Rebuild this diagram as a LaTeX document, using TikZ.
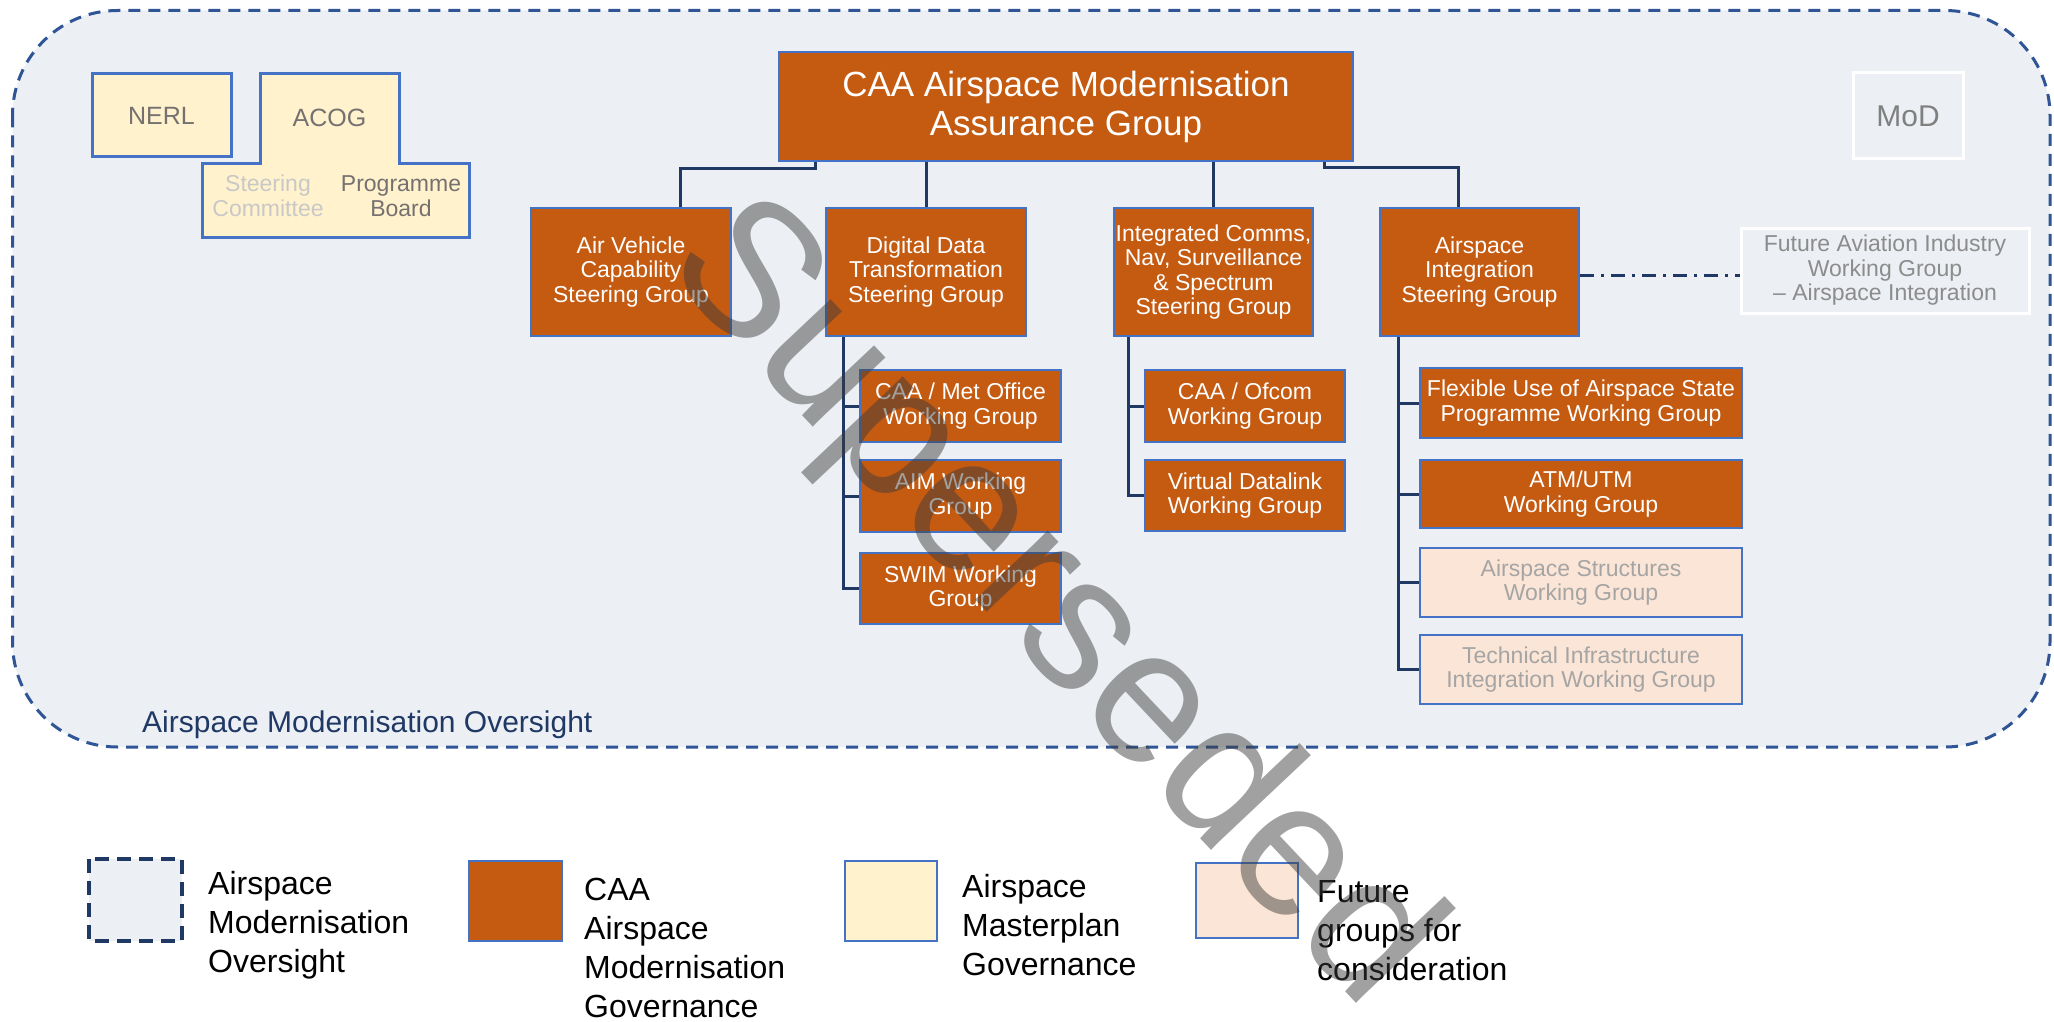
\documentclass[tikz,border=0pt]{standalone}
\usepackage{fontspec}
\setmainfont{Liberation Sans}
\newcommand\myfs[2]{\fontsize{#1}{#2}\selectfont}
\definecolor{orng}{HTML}{C55A11}
\definecolor{bord}{HTML}{4472C4}
\definecolor{navy}{HTML}{1F3864}
\definecolor{ovbg}{HTML}{ECEFF4}
\definecolor{ovline}{HTML}{2F5597}
\definecolor{cream}{HTML}{FFF2CC}
\definecolor{peach}{HTML}{FBE5D6}
\definecolor{dgray}{HTML}{767171}
\definecolor{lgray}{HTML}{C8C8C8}
\definecolor{mgray}{HTML}{808080}
\definecolor{fgray}{HTML}{A5A5A5}
\definecolor{agray}{HTML}{8C8C8C}
\definecolor{wmgray}{HTML}{3C3C3C}
\begin{document}
\begin{tikzpicture}[x=1pt,y=-1pt,
  conn/.style={draw=navy, line width=3pt},
  box/.style={draw=bord, line width=2pt, fill=orng, text=white, align=center, inner sep=0pt, font=\myfs{23}{24.5}},
  lvl/.style={box, minimum width=200pt, minimum height=128pt},
  wg/.style={box, minimum width=201pt, minimum height=72pt},
  rwg/.style={box, minimum width=322pt, minimum height=69pt},
  futbox/.style={fill=peach, text=fgray},
  ampbox/.style={draw=bord, line width=3pt, fill=cream},
  wbox/.style={draw=white, line width=3pt, align=center, inner sep=0pt},
  legbox/.style={draw=bord, line width=2pt},
  legtxt/.style={anchor=north west, align=left, inner sep=0pt, font=\myfs{32}{39}, text=black},
]
\useasboundingbox (0,0) rectangle (2054,1022);
\fill[white] (0,0) rectangle (2054,1022);

% oversight area
\draw[draw=ovline, line width=3pt, dash pattern=on 12pt off 8pt, fill=ovbg, rounded corners=105pt] (12.5,10.5) rectangle (2050,747);
\node[anchor=base west, inner sep=0pt, text=navy, font=\myfs{30}{36}] (ovlabel) at (142,732) {Airspace Modernisation Oversight};

% Masterplan governance
\node[ampbox, minimum width=139pt, minimum height=83pt, inner sep=0pt, text=dgray, font=\myfs{25}{30}] (nerl) at (161.5,115.5) {NERL};
\draw[ampbox] (260,74) -- (399,74) -- (399,164) -- (469,164) -- (469,237) -- (202,237) -- (202,164) -- (260,164) -- cycle;
\node[inner sep=0pt, text=dgray, font=\myfs{25}{30}] (acog) at (329.5,118) {ACOG};
\node[inner sep=0pt, align=center, text=lgray, font=\myfs{23}{25}] (stc) at (268,196) {Steering\\Committee};
\node[inner sep=0pt, align=center, text=dgray, font=\myfs{23}{25}] (pb) at (401,196) {Programme\\Board};

% MoD
\node[wbox, minimum width=110pt, minimum height=86pt, text=mgray, font=\myfs{30}{36}] (mod) at (1908,116) {MoD};

% title
\node[box, minimum width=574pt, minimum height=109pt, font=\myfs{35}{39}] (title) at (1066,106.5) {CAA Airspace Modernisation\\Assurance Group};

% level 2
\node[lvl] (av) at (631,272) {Air Vehicle\\Capability\\Steering Group};
\node[lvl] (dd) at (926,272) {Digital Data\\Transformation\\Steering Group};
\node[lvl, minimum width=199pt] (icns) at (1213.5,272) {Integrated Comms,\\Nav, Surveillance\\\& Spectrum\\Steering Group};
\node[lvl, minimum width=199pt] (ai) at (1479.5,272) {Airspace\\Integration\\Steering Group};

\node[wbox, minimum width=288pt, minimum height=85pt, text=agray, font=\myfs{23}{24.5}] (fai) at (1885,270.5) {Future Aviation Industry\\Working Group\\-- Airspace Integration};

% working groups
\node[wg] (met) at (960.5,406) {CAA / Met Office\\Working Group};
\node[wg] (aim) at (960.5,496) {AIM Working\\Group};
\node[wg, minimum height=71pt] (swim) at (960.5,588.5) {SWIM Working\\Group};
\node[wg, minimum width=200pt] (ofcom) at (1245,406) {CAA / Ofcom\\Working Group};
\node[wg, minimum width=200pt, minimum height=71pt] (vdl) at (1245,495.5) {Virtual Datalink\\Working Group};
\node[rwg, minimum height=70pt] (fua) at (1581,403) {Flexible Use of Airspace State\\Programme Working Group};
\node[rwg, minimum height=68pt] (atm) at (1581,494) {ATM/UTM\\Working Group};
\node[rwg, futbox] (as) at (1581,582.5) {Airspace Structures\\Working Group};
\node[rwg, futbox] (tii) at (1581,669.5) {Technical Infrastructure\\Integration Working Group};

% connectors
\draw[conn] ([xshift=-251pt]title.south) -- ++(0,7) -| ([xshift=49pt]av.north);
\draw[conn] (title.south -| dd.north) -- (dd.north);
\draw[conn] (title.south -| icns.north) -- (icns.north);
\draw[conn] ([xshift=258pt]title.south) -- ++(0,6) -| ([xshift=-21.5pt]ai.north);

\draw[conn] ([xshift=18pt]dd.south west) |- (met.west);
\draw[conn] ([xshift=18pt]dd.south west) |- (aim.west);
\draw[conn] ([xshift=18pt]dd.south west) |- (swim.west);

\draw[conn] ([xshift=15.5pt]icns.south west) |- (ofcom.west);
\draw[conn] ([xshift=15.5pt]icns.south west) |- (vdl.west);

\draw[conn] ([xshift=19pt]ai.south west) |- (fua.west);
\draw[conn] ([xshift=19pt]ai.south west) |- (atm.west);
\draw[conn] ([xshift=19pt]ai.south west) |- (as.west);
\draw[conn] ([xshift=19pt]ai.south west) |- (tii.west);

\draw[conn, dash pattern=on 14pt off 7pt on 3pt off 7pt] ([yshift=-3pt]ai.east) -- ([yshift=-3pt]ai.east -| fai.west);

% legend
\draw[draw=navy, line width=4pt, dash pattern=on 14pt off 8pt, fill=ovbg] (89,859) rectangle (182,941);
\node[legtxt] (lovt) at (208,870) {\rule{0pt}{24pt}Airspace\\Modernisation\\Oversight};
\node[legbox, fill=orng, minimum width=93pt, minimum height=80pt, inner sep=0pt] (lcaa) at (515.5,901) {};
\node[legtxt] (lcaat) at (584,876) {\rule{0pt}{24pt}CAA\\Airspace\\Modernisation\\Governance};
\node[legbox, fill=cream, minimum width=92pt, minimum height=80pt, inner sep=0pt] (lamp) at (891,901) {};
\node[legtxt] (lampt) at (962,873) {\rule{0pt}{24pt}Airspace\\Masterplan\\Governance};
\node[legbox, fill=peach, minimum width=102pt, minimum height=75pt, inner sep=0pt] (lfut) at (1247,900.5) {};
\node[legtxt] (lfutt) at (1317,878) {\rule{0pt}{24pt}Future\\groups for\\consideration};

% watermark
\node[anchor=base west, inner sep=0pt, rotate=-46.7, text=wmgray, text opacity=0.48, font=\myfs{190}{190}] (wm) at (662,267) {Superseded};
\end{tikzpicture}
\end{document}
